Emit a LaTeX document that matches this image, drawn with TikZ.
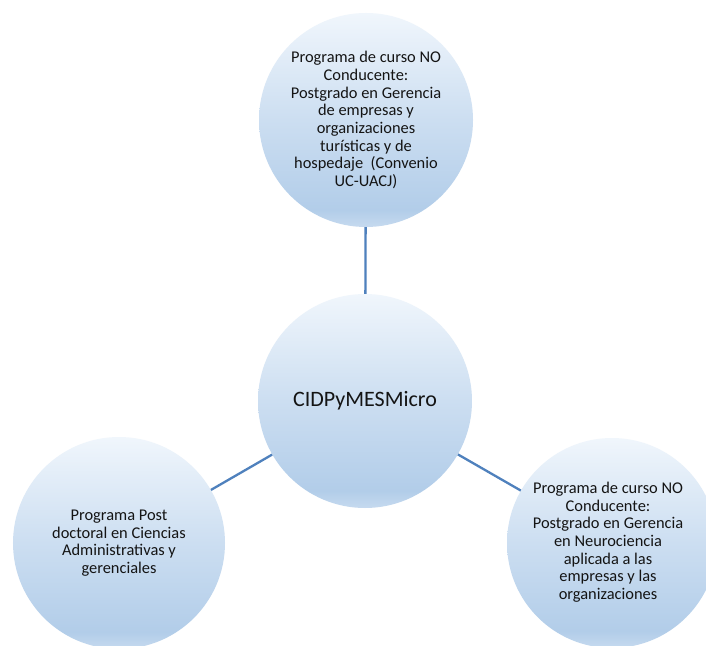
\documentclass[tikz,border=0pt]{standalone}
\usepackage{fontspec}
\setmainfont{Carlito}
\definecolor{linkc}{HTML}{4F81BD}
\definecolor{sA}{HTML}{C6DAEF}
\definecolor{sB}{HTML}{B2CDE9}
\definecolor{sC}{HTML}{CCDEF1}
\definecolor{sD}{HTML}{F0F6FC}
\definecolor{txt}{HTML}{141414}
\pgfdeclareverticalshading{bubble}{100bp}{color(0bp)=(sA); color(25bp)=(sA); color(29bp)=(sB); color(50bp)=(sC); color(75bp)=(sD); color(100bp)=(sD)}
\tikzset{
  bub/.style={circle, minimum size=214bp, inner sep=0pt, shading=bubble, align=center, text=txt, font=\fontsize{16.4bp}{17.7bp}\selectfont},
  link/.style={draw=linkc, line width=2.3bp}
}
\begin{document}
\begin{tikzpicture}[x=1bp,y=-1bp]
\useasboundingbox (0,0) rectangle (706,646);
\clip (0,0) rectangle (706,646);
\fill[white] (0,0) rectangle (706,646);
\node[bub] (c) at (365,401) {\fontsize{22bp}{26bp}\selectfont CIDPyMESMicro};
\node[bub] (t) at (366,120) {Programa de curso NO\\Conducente:\\Postgrado en Gerencia\\de empresas y\\organizaciones\\turísticas y de\\hospedaje\ \ (Convenio\\UC-UACJ)};
\node[bub, minimum size=212bp] (l) at (119,543) {Programa Post\\doctoral en Ciencias\\Administrativas y\\gerenciales};
\node[bub, minimum size=210bp] (r) at (612,543) {\hspace*{-8bp}\begin{tabular}{@{}c@{}}Programa de curso NO\\Conducente:\\Postgrado en Gerencia\\en Neurociencia\\aplicada a las\\empresas y las\\organizaciones\end{tabular}};
\draw[link] (c) -- (t);
\draw[link] (c) -- (l);
\draw[link] (c) -- (r);
\end{tikzpicture}
\end{document}
